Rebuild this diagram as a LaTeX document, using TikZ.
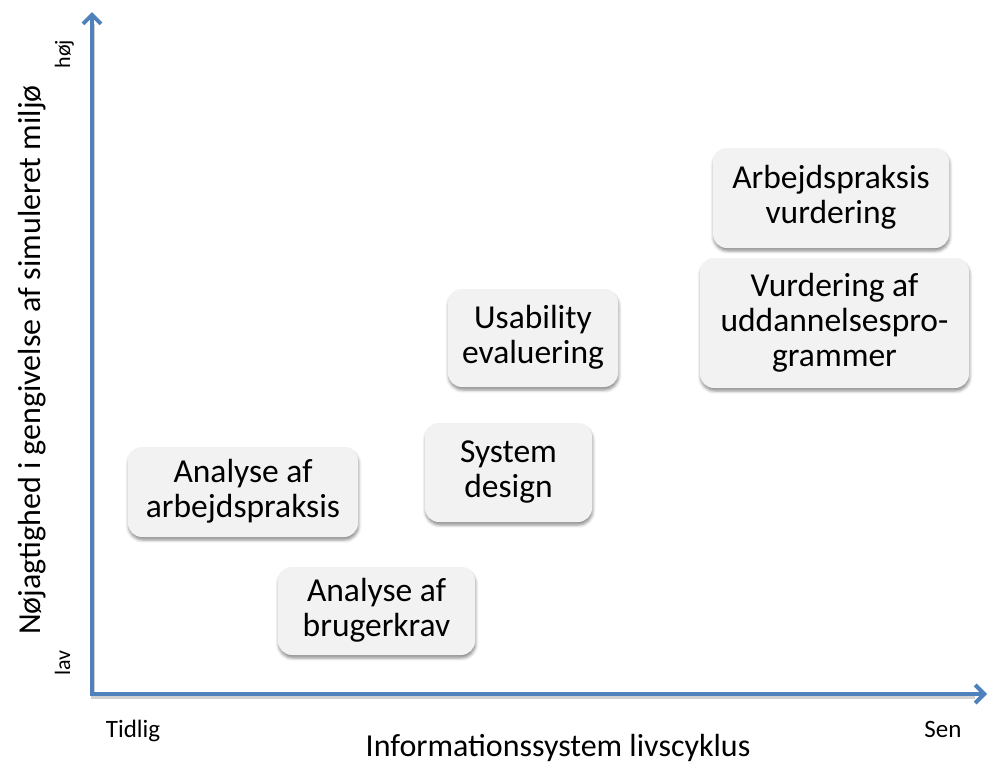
\documentclass[tikz,border=0pt]{standalone}
\usepackage{fontspec}
\setmainfont{Carlito}
\usetikzlibrary{arrows.meta,shadows.blur}
\definecolor{axisblue}{RGB}{79,129,189}
\definecolor{boxfill}{RGB}{242,242,242}
% strut that fixes the depth of a box's last line
\newcommand\stagebot{\rule[-7pt]{0pt}{7pt}}
\begin{document}
\begin{tikzpicture}[x=1pt,y=-1pt,
  stage/.style={rectangle, rounded corners=14pt, fill=boxfill, align=center,
    font=\fontsize{33.5}{35}\selectfont, inner sep=0pt,
    execute at begin node={\rule{0pt}{#1}}, execute at end node=\stagebot,
    blur shadow={shadow xshift=0.6pt, shadow yshift=-3pt,
      shadow blur radius=3pt, shadow opacity=45}},
  stage/.default=34pt,
  barb/.tip={Straight Barb[length=9pt,width=18pt]},
  axisline/.style={line width=4pt, draw=axisblue, line join=miter, barb-barb},
  axisshadow/.style={line width=4pt, draw=black, opacity=0.18, line join=miter},
  ticklabel/.style={font=\fontsize{25}{30}\selectfont, anchor=base},
  endlabel/.style={font=\fontsize{22}{26}\selectfont, anchor=base, rotate=90},
  axistitle/.style={font=\fontsize{32}{38}\selectfont, anchor=base}]
\useasboundingbox (0,0) rectangle (989,763);

% axes
\coordinate (O) at (92,694);
\coordinate (ytop) at (92,12);
\coordinate (xend) at (987,694);
\coordinate (ytopS) at (93,24);
\coordinate (OS) at (93,696.5);
\coordinate (xendS) at (975,696.5);
\draw[axisshadow] (ytopS) -- (OS) -- (xendS);
\draw[axisline] (ytop) -- (O) -- (xend);

% axis labels
\node[ticklabel] (early) at (133,737) {Tidlig};
\node[ticklabel] (late) at (943,737) {Sen};
\node[axistitle] (xtitle) at (558,756) {Informationssystem livscyklus};
\node[axistitle, rotate=90] (ytitle) at (40,360) {Nøjagtighed i gengivelse af simuleret miljø};
\node[endlabel] (high) at (70,54) {høj};
\node[endlabel] (low) at (70,663) {lav};

% activities
\node[stage, minimum width=230pt, minimum height=90pt] (workanalysis) at (243,492) {Analyse af\\arbejdspraksis};
\node[stage, minimum width=197pt, minimum height=88pt] (reqanalysis) at (376.5,611) {Analyse af\\brugerkrav};
\node[stage, minimum width=167pt, minimum height=99pt] (sysdesign) at (508.5,472.5) {System\\design};
\node[stage, minimum width=170pt, minimum height=98pt] (usability) at (533,338) {Usability\\evaluering};
\node[stage, minimum width=236pt, minimum height=100pt] (workeval) at (831,198) {Arbejdspraksis\\vurdering};
\node[stage=25pt, minimum width=269pt, minimum height=130pt] (trainingeval) at (834.5,323) {Vurdering af\\uddannelsespro-\\grammer};
\end{tikzpicture}
\end{document}
